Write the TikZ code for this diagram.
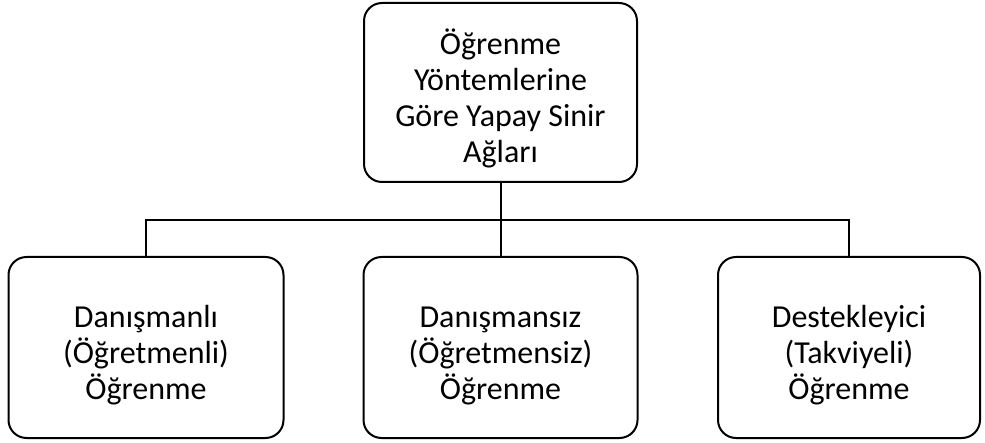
\documentclass[tikz,border=0pt]{standalone}
\usepackage{fontspec}
\setmainfont{Carlito}
\usepackage{tikz}
\usetikzlibrary{positioning, calc}

\tikzset{
    kutu/.style={draw, line width=2pt, rounded corners=18pt, align=center,
        font=\fontsize{32}{36}\selectfont, inner sep=0pt},
    baglanti/.style={line width=2pt}
}
\newcommand{\ustpay}{\rule{0pt}{38pt}}

\begin{document}
\begin{tikzpicture}[x=1pt, y=-1pt]
        \useasboundingbox (0,0) rectangle (985,443);
        % Ust kutu
        \node[kutu, minimum width=273pt, minimum height=179pt] (ust) at (500.5,92.5)
            {\ustpay Öğrenme\\Yöntemlerine\\Göre Yapay Sinir\\Ağları};
        % Alt kutular
        \node[kutu, minimum width=275pt, minimum height=181pt] (sol) at (146,347.5)
            {\ustpay Danışmanlı\\(Öğretmenli)\\Öğrenme};
        \node[kutu, minimum width=274pt, minimum height=181pt] (orta) at (500.5,347.5)
            {\ustpay Danışmansız\\(Öğretmensiz)\\Öğrenme};
        \node[kutu, minimum width=262pt, minimum height=181pt] (sag) at (849,347.5)
            {\ustpay Destekleyici\\(Takviyeli)\\Öğrenme};
        % Baglantilar
        \coordinate (ara) at (500.5,220.5);
        \draw[baglanti] (ust.south) -- (orta.north);
        \draw[baglanti] (sol.north) |- (ara) -| (sag.north);
    \end{tikzpicture}
\end{document}
